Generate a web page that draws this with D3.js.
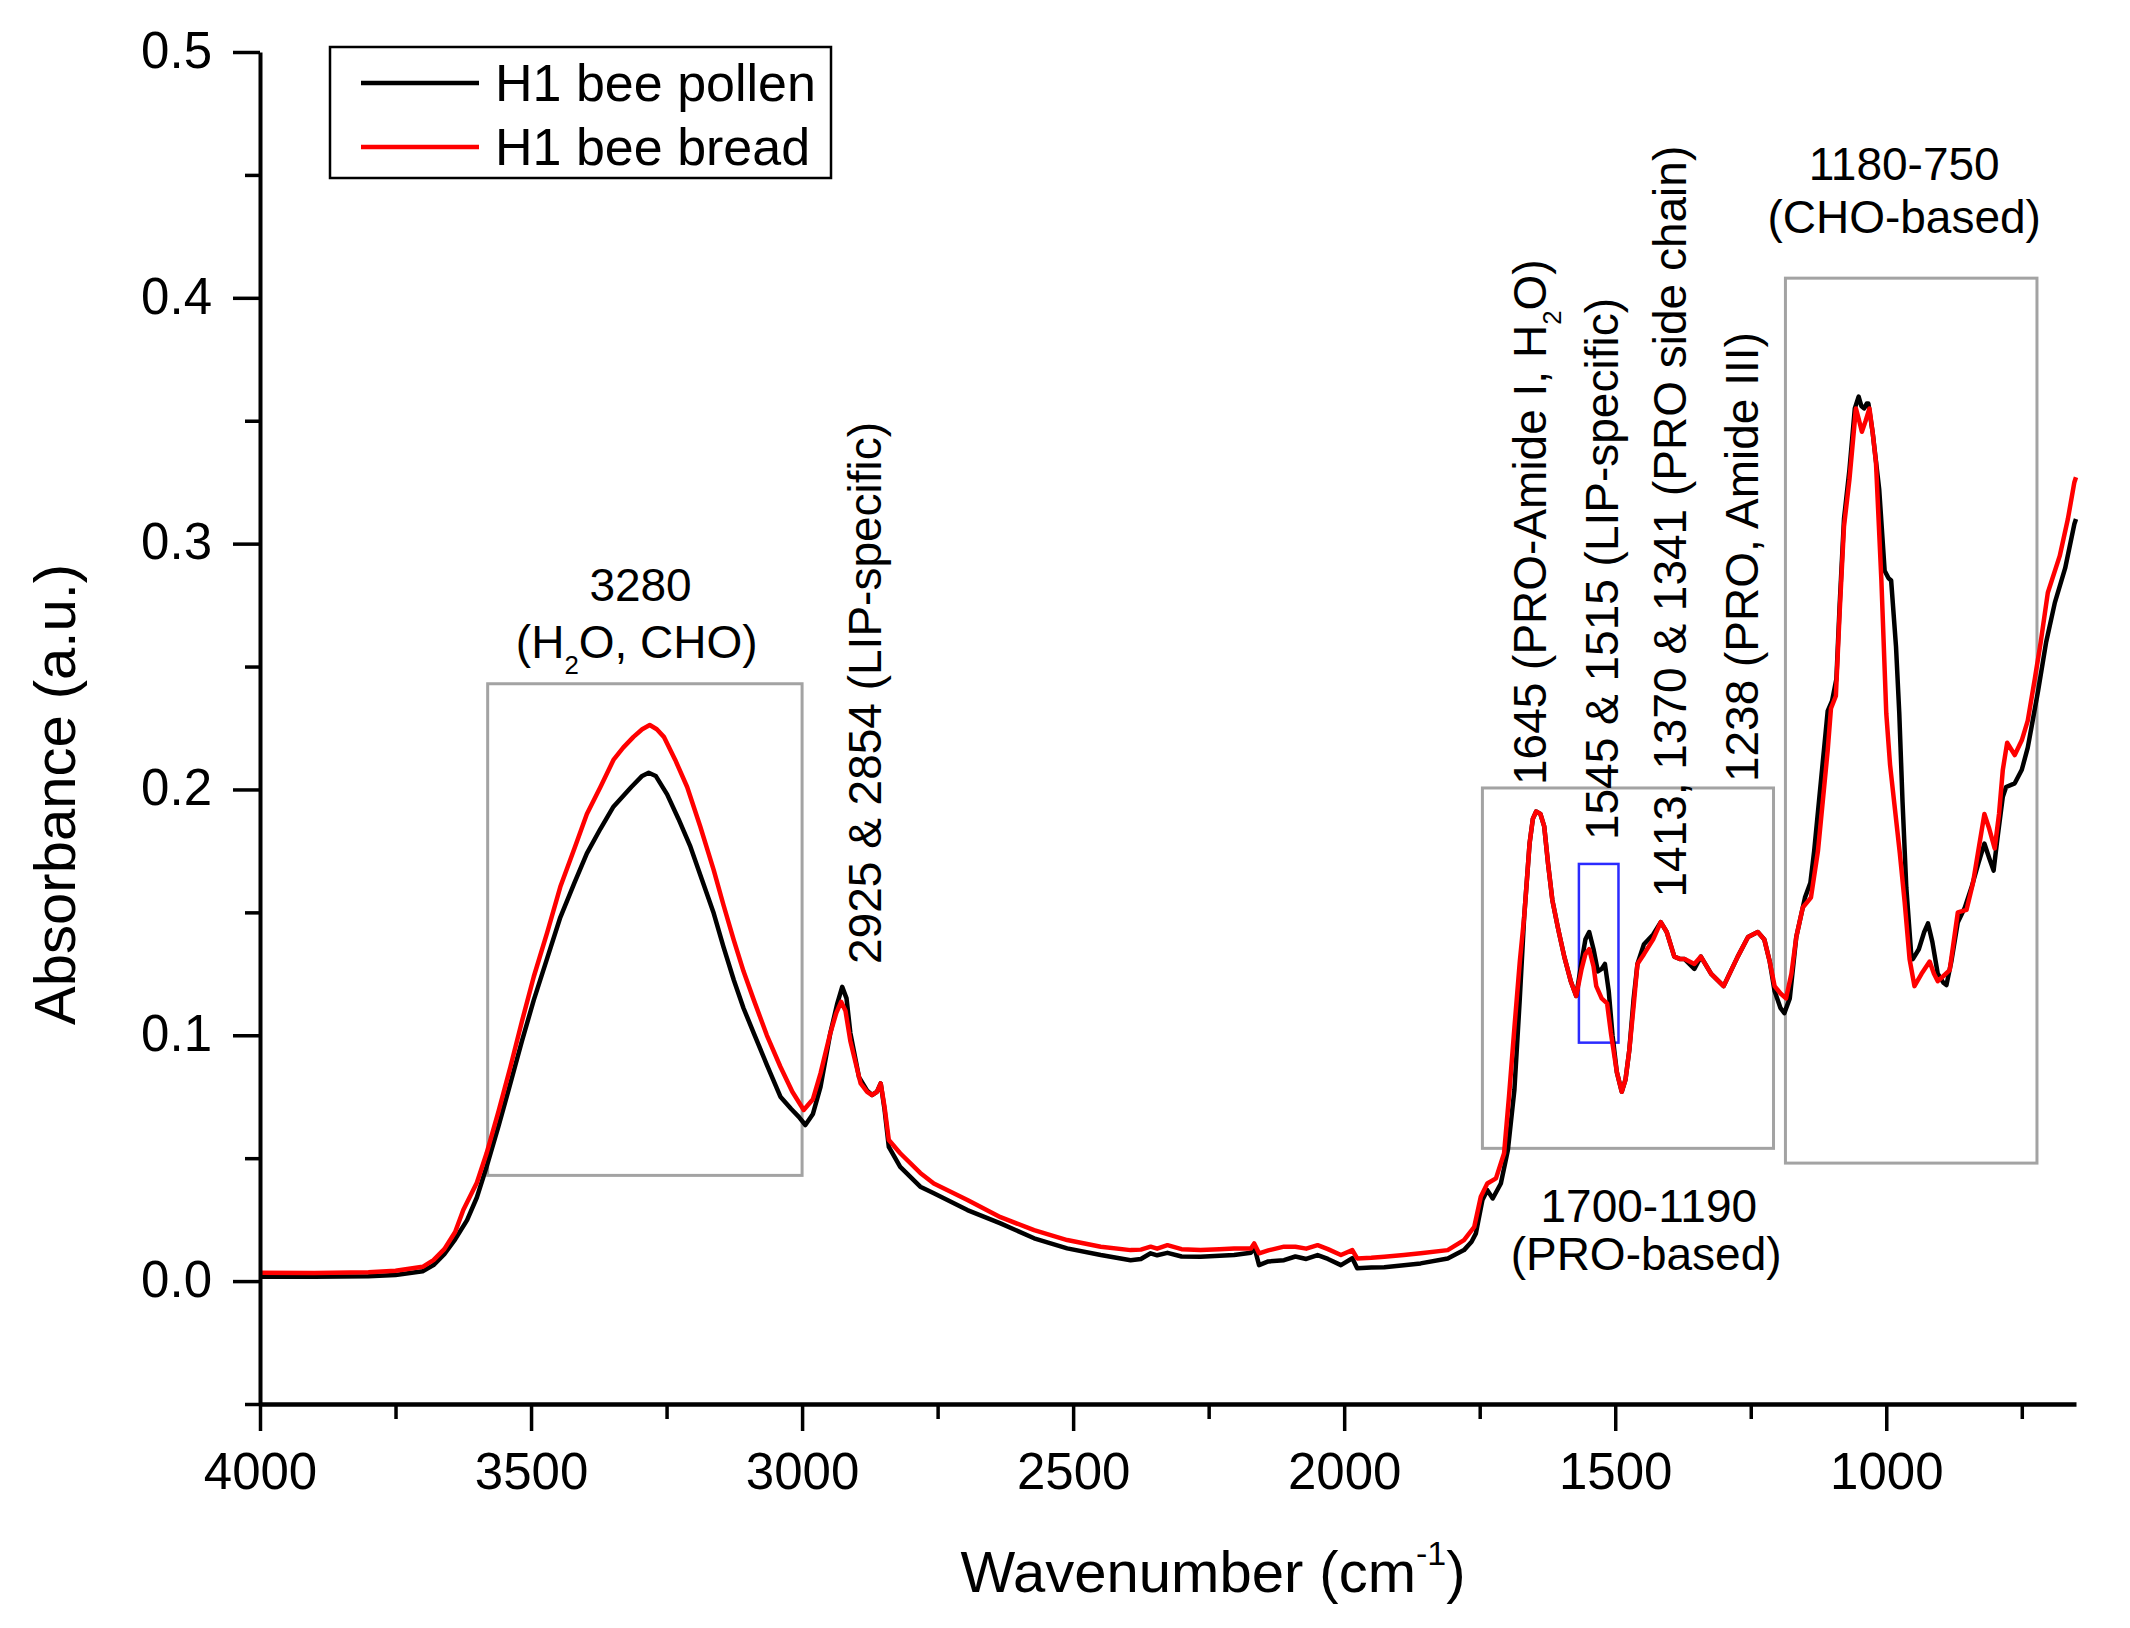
<!DOCTYPE html>
<html>
<head>
<meta charset="utf-8">
<script src="https://cdn.jsdelivr.net/npm/d3@7"></script>
<style>
	body { margin: 0; background: #fff; }
	text { font-family: "Liberation Sans", Arial, sans-serif; fill: #000; }
</style>
</head>
<body>
<div id="chart"></div>
<script>

// H1 bee pollen (black)
const pollenWavenumber = [4000, 3900, 3800, 3750, 3700, 3680, 3660, 3640, 3618, 3600, 3582, 3560, 3538, 3517, 3495, 3470, 3446, 3420, 3397, 3372, 3348, 3315, 3295, 3283, 3270, 3249, 3228, 3206, 3185, 3163, 3145, 3126, 3108, 3089, 3065, 3040, 3020, 3006, 2994, 2980, 2966, 2948, 2935, 2926, 2918, 2911, 2895, 2880, 2871, 2862, 2855, 2848, 2840, 2819, 2782, 2757, 2695, 2634, 2572, 2511, 2449, 2394, 2375, 2357, 2345, 2326, 2300, 2265, 2230, 2203, 2172, 2166, 2157, 2140, 2111, 2090, 2070, 2049, 2030, 2006, 1985, 1976, 1950, 1926, 1890, 1859, 1809, 1779, 1765, 1757, 1745, 1736, 1726, 1711, 1698, 1686, 1676, 1668, 1658, 1652, 1646, 1638, 1631, 1624, 1616, 1605, 1594, 1582, 1572, 1562, 1555, 1548, 1540, 1532, 1525, 1519, 1512, 1505, 1497, 1488, 1481, 1474, 1466, 1459, 1447, 1430, 1416, 1405, 1391, 1380, 1372, 1354, 1342, 1323, 1300, 1287, 1274, 1255, 1237, 1225, 1215, 1206, 1195, 1188, 1178, 1166, 1150, 1140, 1133, 1115, 1108, 1100, 1092, 1086, 1078, 1068, 1058, 1051, 1046, 1041, 1036, 1033, 1025, 1013, 1003, 996, 991, 982, 976, 970, 963, 954, 951, 940, 930, 923, 915, 905, 895, 889, 880, 868, 855, 843, 830, 819, 810, 802, 795, 785, 779, 763, 750, 739, 720, 705, 689, 670, 653, 650];
const pollenAbsorbance = [0.0018, 0.0018, 0.0020, 0.0025, 0.0040, 0.0065, 0.0110, 0.0170, 0.0248, 0.0340, 0.0465, 0.0630, 0.0805, 0.0975, 0.1143, 0.1315, 0.1480, 0.1620, 0.1740, 0.1840, 0.1930, 0.2010, 0.2055, 0.2068, 0.2055, 0.1980, 0.1880, 0.1767, 0.1635, 0.1496, 0.1360, 0.1225, 0.1110, 0.1008, 0.0880, 0.0750, 0.0700, 0.0668, 0.0635, 0.0680, 0.0790, 0.1008, 0.1130, 0.1197, 0.1150, 0.1010, 0.0830, 0.0775, 0.0757, 0.0770, 0.0804, 0.0700, 0.0546, 0.0465, 0.0384, 0.0357, 0.0289, 0.0235, 0.0174, 0.0133, 0.0106, 0.0085, 0.0090, 0.0113, 0.0105, 0.0115, 0.0100, 0.0099, 0.0103, 0.0106, 0.0115, 0.0140, 0.0065, 0.0080, 0.0085, 0.0100, 0.0090, 0.0106, 0.0090, 0.0065, 0.0093, 0.0052, 0.0055, 0.0056, 0.0064, 0.0072, 0.0092, 0.0126, 0.0160, 0.0194, 0.0330, 0.0370, 0.0336, 0.0397, 0.0533, 0.0777, 0.1150, 0.1480, 0.1780, 0.1880, 0.1910, 0.1900, 0.1850, 0.1700, 0.1550, 0.1430, 0.1320, 0.1220, 0.1160, 0.1300, 0.1390, 0.1420, 0.1350, 0.1260, 0.1270, 0.1290, 0.1180, 0.1000, 0.0850, 0.0770, 0.0820, 0.0940, 0.1150, 0.1290, 0.1370, 0.1410, 0.1460, 0.1420, 0.1320, 0.1310, 0.1310, 0.1270, 0.1320, 0.1250, 0.1200, 0.1260, 0.1320, 0.1400, 0.1420, 0.1390, 0.1300, 0.1180, 0.1110, 0.1090, 0.1150, 0.1400, 0.1560, 0.1620, 0.1750, 0.2160, 0.2320, 0.2360, 0.2450, 0.2750, 0.3100, 0.3300, 0.3550, 0.3598, 0.3560, 0.3550, 0.3570, 0.3570, 0.3450, 0.3220, 0.2890, 0.2860, 0.2850, 0.2580, 0.2310, 0.1950, 0.1600, 0.1330, 0.1310, 0.1350, 0.1420, 0.1455, 0.1380, 0.1250, 0.1215, 0.1204, 0.1300, 0.1460, 0.1520, 0.1600, 0.1700, 0.1780, 0.1720, 0.1670, 0.1800, 0.1970, 0.2010, 0.2025, 0.2080, 0.2170, 0.2400, 0.2600, 0.2760, 0.2900, 0.3080, 0.3100];

// H1 bee bread (red)
const breadWavenumber = [4000, 3900, 3800, 3750, 3700, 3680, 3660, 3640, 3625, 3600, 3582, 3560, 3538, 3517, 3495, 3470, 3446, 3420, 3397, 3372, 3348, 3330, 3311, 3295, 3281, 3268, 3255, 3234, 3212, 3188, 3163, 3145, 3126, 3108, 3089, 3065, 3040, 3018, 2997, 2980, 2966, 2948, 2937, 2928, 2920, 2911, 2892, 2880, 2871, 2862, 2855, 2848, 2840, 2819, 2782, 2757, 2695, 2634, 2572, 2511, 2449, 2394, 2375, 2357, 2345, 2326, 2300, 2265, 2230, 2203, 2172, 2166, 2157, 2140, 2111, 2090, 2070, 2049, 2030, 2006, 1985, 1976, 1950, 1926, 1890, 1859, 1809, 1779, 1760, 1748, 1736, 1720, 1705, 1696, 1686, 1676, 1668, 1658, 1652, 1646, 1638, 1631, 1624, 1616, 1605, 1594, 1582, 1572, 1562, 1555, 1548, 1540, 1535, 1525, 1515, 1508, 1497, 1488, 1481, 1474, 1466, 1459, 1447, 1430, 1416, 1405, 1391, 1380, 1372, 1354, 1342, 1323, 1300, 1287, 1274, 1255, 1237, 1225, 1215, 1206, 1195, 1185, 1175, 1166, 1154, 1139, 1126, 1108, 1102, 1093, 1086, 1078, 1068, 1056, 1050, 1045, 1038, 1031, 1025, 1019, 1009, 1000, 993, 985, 975, 966, 957, 948, 935, 920, 912, 905, 895, 883, 868, 852, 840, 831, 819, 810, 800, 792, 785, 777, 763, 750, 739, 726, 715, 702, 680, 665, 653, 650];
const breadAbsorbance = [0.0034, 0.0033, 0.0036, 0.0042, 0.0058, 0.0085, 0.0130, 0.0200, 0.0289, 0.0400, 0.0520, 0.0690, 0.0872, 0.1055, 0.1238, 0.1420, 0.1604, 0.1760, 0.1900, 0.2010, 0.2120, 0.2170, 0.2214, 0.2245, 0.2262, 0.2245, 0.2214, 0.2120, 0.2010, 0.1850, 0.1672, 0.1530, 0.1387, 0.1260, 0.1143, 0.1000, 0.0872, 0.0770, 0.0696, 0.0740, 0.0845, 0.1008, 0.1090, 0.1136, 0.1100, 0.0977, 0.0804, 0.0770, 0.0757, 0.0770, 0.0804, 0.0710, 0.0574, 0.0520, 0.0440, 0.0397, 0.0330, 0.0260, 0.0207, 0.0167, 0.0140, 0.0126, 0.0128, 0.0140, 0.0132, 0.0146, 0.0130, 0.0126, 0.0130, 0.0133, 0.0133, 0.0153, 0.0113, 0.0125, 0.0140, 0.0140, 0.0132, 0.0146, 0.0130, 0.0106, 0.0126, 0.0092, 0.0095, 0.0099, 0.0106, 0.0113, 0.0126, 0.0167, 0.0221, 0.0343, 0.0397, 0.0418, 0.0520, 0.0750, 0.1030, 0.1300, 0.1480, 0.1780, 0.1880, 0.1910, 0.1900, 0.1850, 0.1700, 0.1550, 0.1430, 0.1320, 0.1220, 0.1160, 0.1270, 0.1330, 0.1350, 0.1280, 0.1200, 0.1150, 0.1130, 0.1010, 0.0850, 0.0770, 0.0820, 0.0940, 0.1120, 0.1290, 0.1330, 0.1390, 0.1460, 0.1420, 0.1320, 0.1310, 0.1310, 0.1290, 0.1320, 0.1250, 0.1200, 0.1260, 0.1320, 0.1400, 0.1420, 0.1390, 0.1300, 0.1200, 0.1170, 0.1150, 0.1250, 0.1400, 0.1520, 0.1560, 0.1750, 0.2160, 0.2330, 0.2380, 0.2720, 0.3070, 0.3260, 0.3550, 0.3500, 0.3455, 0.3500, 0.3550, 0.3450, 0.3330, 0.2850, 0.2310, 0.2100, 0.1940, 0.1740, 0.1540, 0.1310, 0.1200, 0.1250, 0.1300, 0.1250, 0.1220, 0.1240, 0.1265, 0.1500, 0.1510, 0.1620, 0.1740, 0.1900, 0.1840, 0.1760, 0.1900, 0.2080, 0.2190, 0.2140, 0.2200, 0.2280, 0.2450, 0.2600, 0.2800, 0.2950, 0.3100, 0.3250, 0.3270];

// Axis ticks
const xMajorTicks = [4000, 3500, 3000, 2500, 2000, 1500, 1000];
const xMinorTicks = [3750, 3250, 2750, 2250, 1750, 1250, 750];
const yMajorTicks = [0.0, 0.1, 0.2, 0.3, 0.4, 0.5];
const yMinorTicks = [-0.05, 0.05, 0.15, 0.25, 0.35, 0.45];

// Region boxes [wavenumber from, wavenumber to, absorbance low, absorbance high]
const regionBoxes = [
	[3580, 3000, 0.043, 0.243],
	[1745, 1208, 0.054, 0.2006],
	[1186, 722, 0.048, 0.408]
];
const lipidBox = [1567, 1494, 0.097, 0.1697];

// Horizontal labels [wavenumber, absorbance, text]
const flatLabels = [
	[3298, 0.2766, "3280"],
	[3305, 0.2535, "(H_2O, CHO)"],
	[967, 0.448, "1180-750"],
	[967, 0.4264, "(CHO-based)"],
	[1438, 0.0240, "1700-1190"],
	[1443, 0.0045, "(PRO-based)"]
];

// Vertical labels [wavenumber, absorbance, text]
const peakLabels = [
	[2855, 0.129, "2925 & 2854 (LIP-specific)"],
	[1628, 0.2018, "1645 (PRO-Amide I, H_2O)"],
	[1495, 0.1794, "1545 & 1515 (LIP-specific)"],
	[1369, 0.156, "1413, 1370 & 1341 (PRO side chain)"],
	[1236, 0.203, "1238 (PRO, Amide III)"]
];

const seriesNames = ["H1 bee pollen", "H1 bee bread"];
const seriesColors = ["#000000", "#ff0000"];

// General Variables
const width = 2130;
const height = 1628;
const margin = { top: 52, right: 54, bottom: 224, left: 260 };

let svg = d3.select("#chart").append("svg")
	.attr("width", width)
	.attr("height", height);

let x = d3.scaleLinear()
	.domain([4000, 650])
	.range([margin.left, width - margin.right]);

let y = d3.scaleLinear()
	.domain([-0.05, 0.5])
	.range([height - margin.bottom, margin.top]);

// writes "H_2O" with a real subscript
function formula(sel, str, size) {
	let pieces = str.split("_2");
	sel.append("tspan").text(pieces[0]);
	for (let i = 1; i < pieces.length; i++) {
		sel.append("tspan").attr("dy", size * 0.34).style("font-size", size * 0.56 + "px").text("2");
		sel.append("tspan").attr("dy", -size * 0.34).text(pieces[i]);
	}
}

// Region boxes
svg.append("g").selectAll("rect")
	.data(regionBoxes).enter()
	.append("rect")
	.attr("x", d => x(d[0]))
	.attr("y", d => y(d[3]))
	.attr("width", d => x(d[1]) - x(d[0]))
	.attr("height", d => y(d[2]) - y(d[3]))
	.attr("fill", "none")
	.attr("stroke", "#a3a3a3")
	.attr("stroke-width", 3);

svg.append("rect")
	.attr("x", x(lipidBox[0]))
	.attr("y", y(lipidBox[3]))
	.attr("width", x(lipidBox[1]) - x(lipidBox[0]))
	.attr("height", y(lipidBox[2]) - y(lipidBox[3]))
	.attr("fill", "none")
	.attr("stroke", "#2b2bff")
	.attr("stroke-width", 2.5);

// Spectra
let line = d3.line()
	.x(d => x(d[0]))
	.y(d => y(d[1]));

let spectra = [
	d3.zip(pollenWavenumber, pollenAbsorbance),
	d3.zip(breadWavenumber, breadAbsorbance)
];

svg.append("g").selectAll("path")
	.data(spectra).enter()
	.append("path")
	.attr("d", line)
	.attr("fill", "none")
	.attr("stroke", (d, i) => seriesColors[i])
	.attr("stroke-width", 4.5)
	.attr("stroke-linejoin", "round");

// X Axis
const xAxisY = height - margin.bottom;
let gx = svg.append("g")
	.attr("transform", "translate(0," + xAxisY + ")")
	.call(d3.axisBottom(x).tickValues(xMajorTicks).tickSize(27).tickSizeOuter(0).tickFormat(d3.format("d")));
gx.select(".domain").attr("stroke-width", 4.5);
gx.selectAll(".tick line").attr("stroke-width", 3.5);
gx.selectAll("text")
	.attr("y", 85)
	.attr("dy", 0)
	.style("font-size", "51px")
	.style("font-family", "Liberation Sans, Arial, sans-serif");

svg.append("g")
	.attr("transform", "translate(0," + xAxisY + ")")
	.call(d3.axisBottom(x).tickValues(xMinorTicks).tickSize(15).tickFormat(""))
	.call(g => g.select(".domain").remove())
	.selectAll(".tick line").attr("stroke-width", 3.5);

// Y Axis
let gy = svg.append("g")
	.attr("transform", "translate(" + margin.left + ",0)")
	.call(d3.axisLeft(y).tickValues(yMajorTicks).tickSize(27).tickSizeOuter(0).tickFormat(d3.format(".1f")));
gy.select(".domain").attr("stroke-width", 4);
gy.selectAll(".tick line").attr("stroke-width", 3.5);
gy.selectAll("text")
	.attr("x", -48)
	.attr("dy", "0.3em")
	.style("font-size", "51px")
	.style("font-family", "Liberation Sans, Arial, sans-serif");

svg.append("g")
	.attr("transform", "translate(" + margin.left + ",0)")
	.call(d3.axisLeft(y).tickValues(yMinorTicks).tickSize(15).tickFormat(""))
	.call(g => g.select(".domain").remove())
	.selectAll(".tick line").attr("stroke-width", 3.5);

// Axis titles
svg.append("text")
	.attr("transform", "translate(75," + y(0.198) + ") rotate(-90)")
	.attr("text-anchor", "middle")
	.style("font-size", "58px")
	.text("Absorbance (a.u.)");

let xTitle = svg.append("text")
	.attr("x", 1213)
	.attr("y", 1592)
	.attr("text-anchor", "middle")
	.style("font-size", "58px");
xTitle.append("tspan").text("Wavenumber (cm");
xTitle.append("tspan").attr("dy", -27).style("font-size", "34px").text("-1");
xTitle.append("tspan").attr("dy", 27).text(")");

// Annotations
const labelSize = 46;
svg.append("g").selectAll("text")
	.data(flatLabels).enter()
	.append("text")
	.attr("x", d => x(d[0]))
	.attr("y", d => y(d[1]))
	.attr("text-anchor", "middle")
	.style("font-size", labelSize + "px")
	.each(function (d) { formula(d3.select(this), d[2], labelSize); });

svg.append("g").selectAll("text")
	.data(peakLabels).enter()
	.append("text")
	.attr("transform", d => "translate(" + x(d[0]) + "," + y(d[1]) + ") rotate(-90)")
	.attr("text-anchor", "start")
	.style("font-size", labelSize + "px")
	.each(function (d) { formula(d3.select(this), d[2], labelSize); });

// Legend
let legend = svg.append("g");
legend.append("rect")
	.attr("x", 330)
	.attr("y", 47)
	.attr("width", 501)
	.attr("height", 131)
	.attr("fill", "#fff")
	.attr("stroke", "#000")
	.attr("stroke-width", 2.5);

seriesNames.forEach(function (name, i) {
	let ly = 83 + i * 64;
	legend.append("line")
		.attr("x1", 361).attr("x2", 479)
		.attr("y1", ly).attr("y2", ly)
		.attr("stroke", seriesColors[i])
		.attr("stroke-width", 4.5);
	legend.append("text")
		.attr("x", 495)
		.attr("y", ly + 18)
		.style("font-size", "52px")
		.text(name);
});

</script>
</body>
</html>
